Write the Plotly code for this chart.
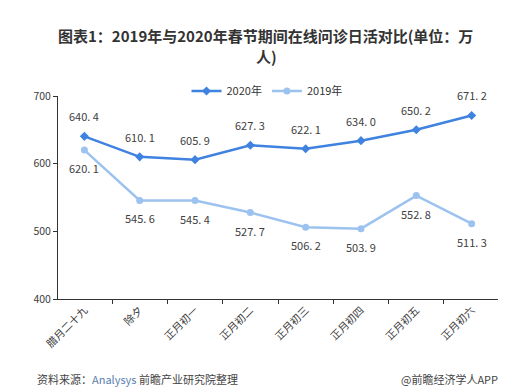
import plotly.graph_objects as go

categories = ["腊月二十九", "除夕", "正月初一", "正月初二", "正月初三", "正月初四", "正月初五", "正月初六"]
values_2020 = [640.4, 610.1, 605.9, 627.3, 622.1, 634.0, 650.2, 671.2]
values_2019 = [620.1, 545.6, 545.4, 527.7, 506.2, 503.9, 552.8, 511.3]
y_ticks = [400, 500, 600, 700]

FONT = "Noto Sans CJK SC, Noto Sans, sans-serif"
C2020 = "#3f82df"
C2019 = "#9cc2f0"

def fmt(v):
    s = f"{v:.1f}"
    a, b = s.split(".")
    return f"{a}. {b}"

fig = go.Figure()
fig.add_trace(go.Scatter(x=categories, y=values_2020, name="2020年", mode="lines+markers",
                         line=dict(color=C2020, width=2.5),
                         marker=dict(symbol="diamond", size=7, color=C2020)))
fig.add_trace(go.Scatter(x=categories, y=values_2019, name="2019年", mode="lines+markers",
                         line=dict(color=C2019, width=2.5),
                         marker=dict(symbol="circle", size=7, color=C2019)))

ann = []
for c, v in zip(categories, values_2020):
    ann.append(dict(x=c, y=v, text=fmt(v), showarrow=False, yshift=20,
                    font=dict(size=11, color="#404040", family=FONT)))
for c, v in zip(categories, values_2019):
    ann.append(dict(x=c, y=v, text=fmt(v), showarrow=False, yshift=-18,
                    font=dict(size=11, color="#404040", family=FONT)))

ann.append(dict(xref="paper", yref="paper", x=(257 - 50) / 440, y=1 + (88 - 28) / 203,
                text="<b>图表1：2019年与2020年春节期间在线问诊日活对比(单位：万</b>",
                showarrow=False, xanchor="center", yanchor="middle",
                font=dict(size=15, color="#333333", family=FONT)))
ann.append(dict(xref="paper", yref="paper", x=(258 - 50) / 440, y=1 + (88 - 48) / 203,
                text="<b>人)</b>", showarrow=False, xanchor="center", yanchor="middle",
                font=dict(size=15, color="#333333", family=FONT)))
ann.append(dict(xref="paper", yref="paper", x=-(50 - 27) / 440, y=-(371 - 291) / 203,
                text="资料来源：<span style='color:#5a7fb0'>Analysys</span> 前瞻产业研究院整理",
                showarrow=False, xanchor="left", yanchor="middle",
                font=dict(size=11, color="#444444", family=FONT)))
ann.append(dict(xref="paper", yref="paper", x=1 + (492 - 490) / 440, y=-(371 - 291) / 203,
                text="@前瞻经济学人APP", showarrow=False, xanchor="right", yanchor="middle",
                font=dict(size=11, color="#444444", family=FONT)))

fig.update_layout(
    width=513, height=391,
    margin=dict(l=50, r=23, t=88, b=100),
    paper_bgcolor="white", plot_bgcolor="white",
    font=dict(family=FONT, size=11, color="#404040"),
    showlegend=True,
    legend=dict(orientation="h", x=(259 - 50) / 440, xanchor="center", y=1 + 5 / 203, yanchor="middle",
                font=dict(size=11, color="#333333", family=FONT), bgcolor="rgba(0,0,0,0)",
                itemwidth=30),
    annotations=ann,
    xaxis=dict(showgrid=False, showline=True, linecolor="#333333", linewidth=1,
               ticks="outside", tickson="boundaries", ticklen=4, tickcolor="#333333",
               tickangle=-45, tickfont=dict(size=10.5, color="#404040", family=FONT)),
    yaxis=dict(range=[400, 700], tickvals=y_ticks, showgrid=False, showline=True,
               linecolor="#333333", linewidth=1, ticks="outside", ticklen=4,
               tickcolor="#333333", zeroline=False,
               tickfont=dict(size=10.5, color="#404040", family=FONT)),
)

fig.write_html("out.html")
